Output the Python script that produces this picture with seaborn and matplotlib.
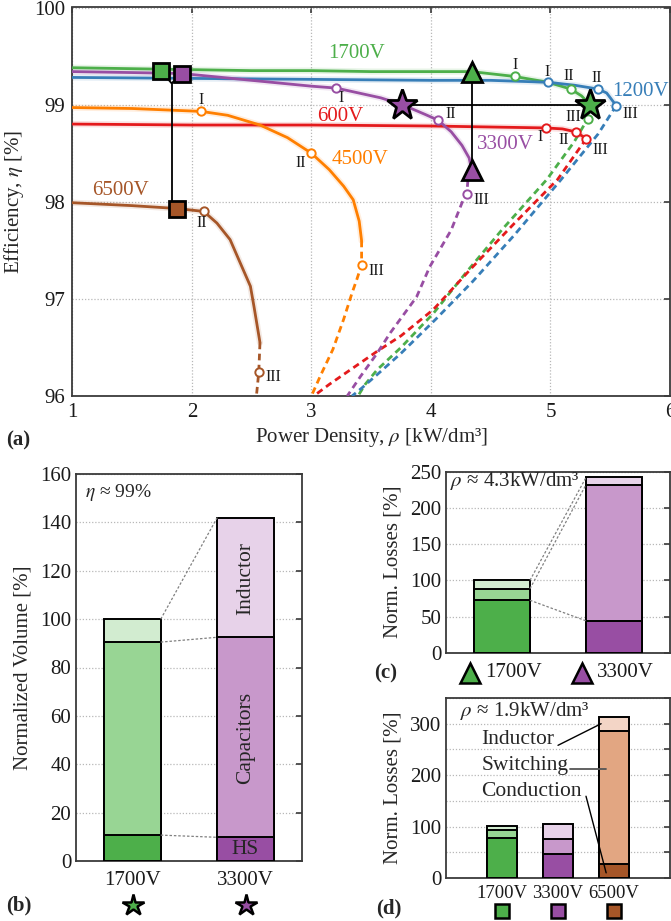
import numpy as np
import pandas as pd
import matplotlib
matplotlib.use("Agg")
import matplotlib.pyplot as plt
import matplotlib.transforms as mtransforms
import seaborn as sns

sns.set_theme(style="white")
plt.rcParams["font.family"] = ["Liberation Serif", "DejaVu Serif"]
plt.rcParams["mathtext.fontset"] = "stix"
plt.rcParams["axes.unicode_minus"] = False

# ---------------- colours ----------------
GREEN, PURPLE, BROWN = "#4daf4a", "#984ea3", "#a65628"
ORANGE, RED, BLUE = "#ff7f00", "#e41a1c", "#377eb8"
GREEN_M, GREEN_L = "#98d594", "#d2ecd0"
PURPLE_M, PURPLE_L = "#c898cb", "#e7d2e9"
BROWN_M, BROWN_L = "#e2a682", "#f3d5c6"

# ---------------- (a) efficiency vs power density ----------------
g_rho = [1.0, 1.5, 2.0, 2.5, 3.0, 3.5, 4.0, 4.34, 4.70, 4.98, 5.17, 5.26, 5.33]
g_eta = [99.38, 99.37, 99.36, 99.35, 99.35, 99.34, 99.34, 99.34, 99.29, 99.23, 99.16, 99.09, 99.00]
g_rho_d = [5.33, 5.31, 5.20, 4.97, 4.60, 4.30, 4.02, 3.75, 3.55, 3.45, 3.39]
g_eta_d = [99.00, 98.85, 98.62, 98.23, 97.72, 97.28, 96.85, 96.50, 96.27, 96.12, 96.00]

b_rho = [1.0, 2.0, 3.0, 4.0, 4.5, 4.98, 5.20, 5.40, 5.47, 5.55]
b_eta = [99.28, 99.27, 99.26, 99.25, 99.25, 99.23, 99.20, 99.16, 99.12, 98.99]
b_rho_d = [5.55, 5.40, 5.09, 4.70, 4.35, 4.04, 3.75, 3.55, 3.42, 3.34]
b_eta_d = [98.99, 98.70, 98.23, 97.66, 97.18, 96.79, 96.44, 96.22, 96.08, 96.00]

r_rho = [1.0, 2.0, 3.0, 4.0, 4.96, 5.10, 5.21, 5.30]
r_eta = [98.80, 98.79, 98.79, 98.78, 98.76, 98.75, 98.72, 98.65]
r_rho_d = [5.30, 5.06, 4.70, 4.35, 4.02, 3.75, 3.55, 3.35, 3.15, 3.02]
r_eta_d = [98.65, 98.23, 97.78, 97.33, 96.89, 96.62, 96.46, 96.29, 96.12, 96.00]

p_rho = [1.0, 1.5, 1.92, 2.5, 3.0, 3.21, 3.58, 3.76, 3.95, 4.06, 4.17, 4.26, 4.32, 4.34]
p_eta = [99.34, 99.33, 99.32, 99.25, 99.19, 99.17, 99.07, 99.00, 98.90, 98.84, 98.72, 98.58, 98.45, 98.33]
p_rho_d = [4.34, 4.31, 4.30, 4.27, 4.17, 3.99, 3.88, 3.66, 3.55, 3.41, 3.30]
p_eta_d = [98.33, 98.23, 98.08, 98.02, 97.71, 97.33, 97.02, 96.65, 96.44, 96.20, 96.00]

o_rho = [1.0, 1.5, 2.08, 2.3, 2.57, 2.8, 3.0, 3.15, 3.27, 3.35, 3.40, 3.42]
o_eta = [98.97, 98.96, 98.93, 98.89, 98.79, 98.66, 98.50, 98.33, 98.16, 98.02, 97.80, 97.60]
o_rho_d = [3.42, 3.42, 3.38, 3.34, 3.27, 3.18, 3.08, 3.00]
o_eta_d = [97.60, 97.35, 97.20, 97.06, 96.79, 96.48, 96.22, 96.00]

w_rho = [1.0, 1.5, 1.88, 2.10, 2.21, 2.32, 2.38, 2.49, 2.52, 2.57]
w_eta = [97.99, 97.96, 97.93, 97.90, 97.78, 97.61, 97.44, 97.13, 96.92, 96.55]
w_rho_d = [2.57, 2.56, 2.55, 2.54]
w_eta_d = [96.55, 96.25, 96.12, 96.00]

# operating points I / II / III
g_pts = [(4.70, 99.29, "I"), (5.17, 99.16, "II"), (5.31, 98.85, "III")]
b_pts = [(4.98, 99.23, "I"), (5.40, 99.16, "II"), (5.55, 98.99, "III")]
r_pts = [(4.96, 98.76, "I"), (5.21, 98.72, "II"), (5.30, 98.65, "III")]
p_pts = [(3.21, 99.17, "I"), (4.06, 98.84, "II"), (4.30, 98.08, "III")]
o_pts = [(2.08, 98.93, "I"), (3.00, 98.50, "II"), (3.42, 97.35, "III")]
w_pts = [(2.10, 97.90, "II"), (2.56, 96.25, "III")]

# label offsets (d_rho, d_eta, alignment) for the operating-point names
g_off = [(0.0, 0.12, "center"), (-0.02, 0.13, "center"), (-0.05, 0.02, "right")]
b_off = [(-0.01, 0.11, "center"), (-0.01, 0.11, "center"), (0.05, -0.09, "left")]
r_off = [(-0.05, -0.09, "center"), (-0.10, -0.08, "center"), (0.05, -0.12, "left")]
p_off = [(0.04, -0.10, "center"), (0.06, 0.06, "left"), (0.06, -0.06, "left")]
o_off = [(0.0, 0.12, "center"), (-0.09, -0.10, "center"), (0.06, -0.06, "left")]
w_off = [(-0.02, -0.12, "center"), (0.06, -0.05, "left")]

series = [
    ("1700V", GREEN, g_rho, g_eta, g_rho_d, g_eta_d, g_pts, g_off, (3.38, 99.53)),
    ("1200V", BLUE, b_rho, b_eta, b_rho_d, b_eta_d, b_pts, b_off, (5.75, 99.14)),
    ("600V", RED, r_rho, r_eta, r_rho_d, r_eta_d, r_pts, r_off, (3.24, 98.88)),
    ("3300V", PURPLE, p_rho, p_eta, p_rho_d, p_eta_d, p_pts, p_off, (4.62, 98.59)),
    ("4500V", ORANGE, o_rho, o_eta, o_rho_d, o_eta_d, o_pts, o_off, (3.41, 98.44)),
    ("6500V", BROWN, w_rho, w_eta, w_rho_d, w_eta_d, w_pts, w_off, (1.40, 98.12)),
]

# highlighted designs
star_rho, star_eta = [3.76, 5.33], [99.00, 99.00]          # 3300V, 1700V at eta = 99 %
tri_rho, tri_eta = [4.34, 4.34], [99.34, 98.33]            # 1700V, 3300V at rho = 4.3
sq_rho, sq_eta = [1.74, 1.92, 1.88], [99.35, 99.32, 97.93]  # 1700V, 3300V, 6500V at rho = 1.9

# ---------------- (b) volume breakdown ----------------
vol_cats = ["1700V", "3300V"]
vol_hs = [10.7, 9.8]
vol_cap = [79.8, 82.7]
vol_ind = [9.5, 49.5]

# ---------------- (c) losses at 4.3 kW/dm3 ----------------
lc_cats = ["1700V", "3300V"]
lc_cond = [72.4, 44.0]
lc_sw = [16.1, 188.0]
lc_ind = [11.5, 10.0]

# ---------------- (d) losses at 1.9 kW/dm3 ----------------
ld_cats = ["1700V", "3300V", "6500V"]
ld_cond = [77.0, 47.0, 27.5]
ld_sw = [17.3, 29.2, 257.5]
ld_ind = [6.5, 28.5, 28.0]

W, H = 671, 921
fig = plt.figure(figsize=(W / 100, H / 100), dpi=100)


def rect(l, t, r, b):
    return [l / W, 1 - b / H, (r - l) / W, (b - t) / H]


FS = 15
SPINE = "#3a3a3a"
GRIDC = "#b8b8b8"


def style_axes(ax, xgrid=True):
    for s in ax.spines.values():
        s.set_color(SPINE)
        s.set_linewidth(1.3)
        s.set_visible(True)
    ax.tick_params(direction="in", length=4, width=1.2, color=SPINE,
                   labelsize=FS, labelcolor="#1a1a1a", right=True)
    ax.grid(axis="y", linestyle=(0, (1, 1.5)), color=GRIDC, linewidth=0.9)
    if xgrid:
        ax.grid(axis="x", linestyle=(0, (1, 1.5)), color=GRIDC, linewidth=0.9)
    ax.set_axisbelow(True)


# ======================= panel (a) =======================
axa = fig.add_axes(rect(72.3, 7.5, 670, 396))
style_axes(axa)
axa.tick_params(top=True, pad=5)

for name, col, xs, ys, xd, yd, pts, offs, lab in series:
    sns.lineplot(x=xs, y=ys, ax=axa, color=col, lw=4.5, alpha=0.13,
                 sort=False, estimator=None, zorder=2)
    sns.lineplot(x=xs, y=ys, ax=axa, color=col, lw=2.0,
                 sort=False, estimator=None, zorder=3)
    sns.lineplot(x=xd, y=yd, ax=axa, color=col, lw=2.0, linestyle=(0, (2.4, 1.6)),
                 sort=False, estimator=None, zorder=3)
    px = [p[0] for p in pts]
    py = [p[1] for p in pts]
    axa.plot(px, py, "o", ms=6, mfc="white", mec=col, mew=1.4, zorder=5)
    for (x0, y0, t), (dx, dy, ha) in zip(pts, offs):
        axa.text(x0 + dx, y0 + dy, t, fontsize=11.5, ha=ha, va="center",
                 color="#1a1a1a", zorder=6)
    axa.text(lab[0], lab[1], name, fontsize=FS, color=col, ha="center",
             va="center", zorder=6)

# connectors between highlighted designs
axa.plot(star_rho, star_eta, color="black", lw=1.3, zorder=7)
axa.plot(tri_rho, tri_eta, color="black", lw=1.3, zorder=7)
jx, jy = 1.83, 99.22
axa.plot([sq_rho[0], jx, sq_rho[1]], [sq_eta[0], jy, sq_eta[1]], color="black", lw=1.3, zorder=7)
axa.plot([jx, jx], [jy, sq_eta[2]], color="black", lw=1.3, zorder=7)

for x0, y0, c in zip(star_rho, star_eta, [PURPLE, GREEN]):
    axa.plot(x0, y0, marker="*", ms=23, mfc=c, mec="black", mew=2.0, zorder=9)
for x0, y0, c in zip(tri_rho, tri_eta, [GREEN, PURPLE]):
    axa.plot(x0, y0, marker="^", ms=15, mfc=c, mec="black", mew=2.0, zorder=9)
for x0, y0, c in zip(sq_rho, sq_eta, [GREEN, PURPLE, BROWN]):
    axa.plot(x0, y0, marker="s", ms=11, mfc=c, mec="black", mew=2.0, zorder=9)

axa.set_xlim(1, 6)
axa.set_ylim(96, 100)
axa.set_xticks([1, 2, 3, 4, 5, 6])
axa.set_yticks([96, 97, 98, 99, 100])
axa.set_xlabel(r"Power Density, $\rho$ [kW/dm³]", fontsize=FS, labelpad=3)
axa.set_ylabel(r"Efficiency, $\eta$ [%]", fontsize=FS, labelpad=6)


def stacked(ax, cats, parts, colors, width):
    """Overlay cumulative totals so the parts appear stacked."""
    cum = np.cumsum(np.array(parts), axis=0)
    for level in range(len(parts) - 1, -1, -1):
        df = pd.DataFrame({"cat": cats, "val": cum[level]})
        pal = {c: colors[level][i] for i, c in enumerate(cats)}
        sns.barplot(data=df, x="cat", y="val", hue="cat", palette=pal, order=cats,
                    width=width, edgecolor="black", linewidth=1.4, saturation=1,
                    legend=False, ax=ax, zorder=3)
    return cum


# ======================= panel (b) =======================
axb = fig.add_axes(rect(76, 474, 302, 861))
cumb = stacked(axb, vol_cats, [vol_hs, vol_cap, vol_ind],
               [[GREEN, PURPLE], [GREEN_M, PURPLE_M], [GREEN_L, PURPLE_L]], 0.5)
style_axes(axb, xgrid=False)
axb.tick_params(axis="x", length=0, pad=7)
axb.set_xlim(-0.5, 1.5)
axb.set_ylim(0, 160)
axb.set_yticks(np.arange(0, 161, 20))
axb.set_xlabel("")
axb.set_ylabel("Normalized Volume [%]", fontsize=FS, labelpad=5)
for lvl in range(3):
    axb.plot([0.25, 0.75], [cumb[lvl][0], cumb[lvl][1]], color="#808080",
             lw=0.9, linestyle=(0, (2, 1.5)), zorder=4)
axb.text(-0.42, 152.5, r"$\eta$ ≈ 99%", fontsize=FS - 1, ha="left", va="center")
axb.text(1.0, 117, "Inductor", rotation=90, fontsize=FS + 0.5, ha="center", va="center", zorder=5)
axb.text(1.0, 51, "Capacitors", rotation=90, fontsize=FS + 0.5, ha="center", va="center", zorder=5)
axb.text(1.0, 4.8, "HS", fontsize=FS + 0.5, ha="center", va="center", zorder=5)
tb = mtransforms.blended_transform_factory(axb.transData, axb.transAxes)
for i, c in enumerate([GREEN, PURPLE]):
    axb.plot(i, -0.114, marker="*", ms=16, mfc=c, mec="black", mew=1.8,
             transform=tb, clip_on=False)

# ======================= panel (c) =======================
axc = fig.add_axes(rect(446, 471.7, 670, 652.7))
cumc = stacked(axc, lc_cats, [lc_cond, lc_sw, lc_ind],
               [[GREEN, PURPLE], [GREEN_M, PURPLE_M], [GREEN_L, PURPLE_L]], 0.5)
style_axes(axc, xgrid=False)
axc.set_xlim(-0.5, 1.5)
axc.set_ylim(0, 250)
axc.set_yticks(np.arange(0, 251, 50))
axc.set_xticks([])
axc.set_xlabel("")
axc.set_ylabel("Norm. Losses [%]", fontsize=FS, labelpad=5)
for lvl in range(3):
    axc.plot([0.25, 0.75], [cumc[lvl][0], cumc[lvl][1]], color="#808080",
             lw=0.9, linestyle=(0, (2, 1.5)), zorder=4)
axc.text(-0.46, 237, r"$\rho$ ≈ 4.3kW/dm³", fontsize=FS, ha="left", va="center",
         zorder=6)
tc = mtransforms.blended_transform_factory(axc.transData, axc.transAxes)
for i, (c, name) in enumerate(zip([GREEN, PURPLE], lc_cats)):
    axc.plot(i - 0.29, -0.112, marker="^", ms=15, mfc=c, mec="black", mew=1.8,
             transform=tc, clip_on=False)
    axc.text(i - 0.15, -0.112, name, fontsize=FS, ha="left", va="center",
             transform=tc, color="#1a1a1a")

# ======================= panel (d) =======================
axd = fig.add_axes(rect(446, 698, 670, 878))
cumd = stacked(axd, ld_cats, [ld_cond, ld_sw, ld_ind],
               [[GREEN, PURPLE, BROWN], [GREEN_M, PURPLE_M, BROWN_M],
                [GREEN_L, PURPLE_L, BROWN_L]], 0.52)
style_axes(axd, xgrid=False)
axd.tick_params(axis="x", length=0, pad=5, labelsize=13.5)
axd.set_xlim(-1, 3)
axd.set_ylim(0, 350)
axd.set_yticks(np.arange(0, 351, 50))
axd.set_yticklabels(["0", "", "100", "", "200", "", "300", ""])
axd.set_xlabel("")
axd.set_ylabel("Norm. Losses [%]", fontsize=FS, labelpad=5)
axd.text(-0.75, 324, r"$\rho$ ≈ 1.9kW/dm³", fontsize=FS, ha="left", va="center", zorder=6)
axd.text(-0.37, 269, "Inductor", fontsize=FS + 0.5, ha="left", va="center", zorder=6)
axd.text(-0.37, 219, "Switching", fontsize=FS + 0.5, ha="left", va="center", zorder=6)
axd.text(-0.37, 169, "Conduction", fontsize=FS + 0.5, ha="left", va="center", zorder=6)
axd.plot([1.0, 1.77], [258, 300], color="black", lw=1.0, zorder=6)
axd.plot([1.22, 1.86], [211, 211], color="#555555", lw=1.3, zorder=6)
axd.plot([1.50, 1.86], [159, 10], color="black", lw=1.0, zorder=6)
td = mtransforms.blended_transform_factory(axd.transData, axd.transAxes)
for i, c in enumerate([GREEN, PURPLE, BROWN]):
    axd.plot(i, -0.183, marker="s", ms=10, mfc=c, mec="black", mew=1.8,
             transform=td, clip_on=False)

# panel letters
for t, x, y in [("(a)", 6, 440), ("(b)", 6, 905), ("(c)", 374, 673), ("(d)", 376, 908)]:
    fig.text(x / W, 1 - y / H, t, fontsize=FS, fontweight="bold", ha="left", va="center")

fig.savefig("out.png", dpi=100)
